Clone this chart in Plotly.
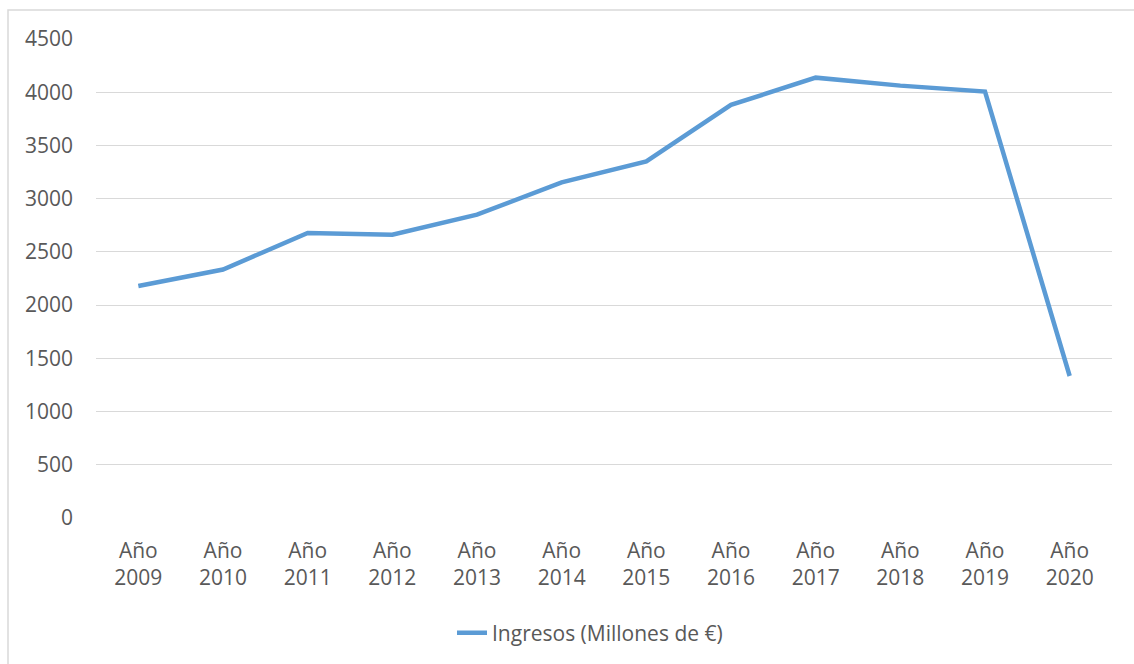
import plotly.graph_objects as go

categories = ["Año<br>2009", "Año<br>2010", "Año<br>2011", "Año<br>2012", "Año<br>2013", "Año<br>2014",
              "Año<br>2015", "Año<br>2016", "Año<br>2017", "Año<br>2018", "Año<br>2019", "Año<br>2020"]
ingresos = [2180, 2334, 2678, 2662, 2850, 3153, 3350, 3881, 4137, 4062, 4006, 1334]
y_ticks = [0, 500, 1000, 1500, 2000, 2500, 3000, 3500, 4000, 4500]

W, H = 1134, 664
L, R, T, B = 96, 22, 39, 145
pw, ph = W - L - R, H - T - B

def px_x(px):
    return (px - L) / pw

def px_y(py):
    return (H - B - py) / ph

text_col = "#595959"
grid_col = "#D9D9D9"
font_family = "Open Sans, Liberation Sans, sans-serif"
fs = 21

fig = go.Figure()
fig.add_trace(go.Scatter(
    x=categories, y=ingresos, mode="lines",
    name="Ingresos (Millones de €)",
    line=dict(color="#5B9BD5", width=4.5),
))

fig.update_layout(
    width=W, height=H,
    margin=dict(l=L, r=R, t=T, b=B),
    paper_bgcolor="white", plot_bgcolor="white",
    font=dict(family=font_family, size=fs, color=text_col),
    showlegend=True,
    legend=dict(orientation="h", x=px_x(590), xanchor="center", y=px_y(633), yanchor="middle",
                font=dict(size=fs, color=text_col)),
    xaxis=dict(range=[-0.5, len(categories) - 0.5], automargin=False,
               showgrid=False, showline=False, zeroline=False, ticks="",
               ticklabelstandoff=18, tickfont=dict(size=fs, color=text_col)),
    yaxis=dict(range=[0, 4500], tickvals=y_ticks, automargin=False,
               showgrid=True, gridcolor=grid_col, gridwidth=1.3,
               zeroline=False, showline=False, ticks="", ticklabelstandoff=22,
               tickfont=dict(size=fs, color=text_col)),
    shapes=[dict(type="rect", xref="paper", yref="paper",
                 x0=px_x(8), x1=px_x(W + 20), y0=px_y(H + 20), y1=px_y(10),
                 line=dict(color=grid_col, width=1.5), fillcolor="rgba(0,0,0,0)", layer="below")],
)

fig.write_html("out.html")
